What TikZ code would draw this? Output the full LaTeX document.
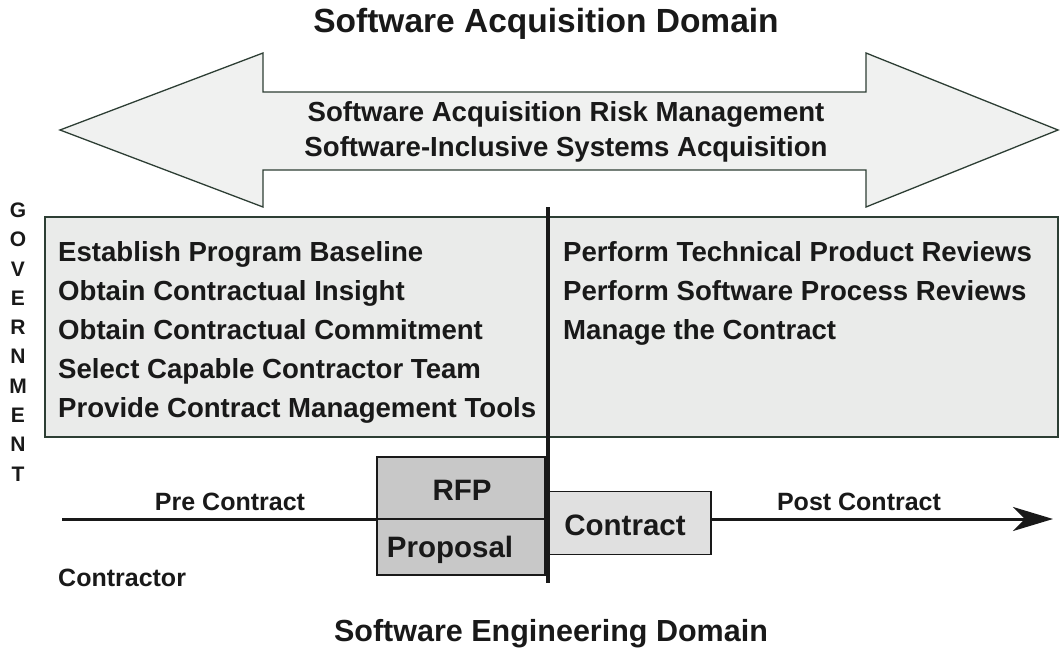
\documentclass[tikz,border=0pt]{standalone}
\usepackage{fontspec}
\setmainfont{Liberation Sans}
\usepackage{tikz}
\usetikzlibrary{arrows.meta}
\definecolor{edge}{RGB}{45,62,52}
\definecolor{paper}{RGB}{240,241,240}
\definecolor{panel}{RGB}{234,235,234}
\definecolor{rfpgray}{RGB}{200,200,200}
\definecolor{ctgray}{RGB}{224,224,224}
\definecolor{ink}{RGB}{25,25,25}

\begin{document}
\begin{tikzpicture}[x=1pt,y=-1pt]
    \tikzstyle{title}=[fill=none, draw=none, text=ink, font=\bfseries\fontsize{33.5}{38}\selectfont]
    \tikzstyle{label}=[fill=none, draw=none, text=ink, inner sep=0pt, font=\bfseries\fontsize{27.6}{32}\selectfont]
    \tikzstyle{small label}=[fill=none, draw=none, text=ink, inner sep=0pt, font=\bfseries\fontsize{25}{30}\selectfont]
    \tikzstyle{doc}=[draw=ink, line width=1.6pt, inner sep=0pt]
    \tikzstyle{doc label}=[fill=none, draw=none, text=ink, inner sep=0pt, anchor=base, font=\bfseries\fontsize{29.5}{34}\selectfont]
    \tikzstyle{outline}=[draw=edge, line width=1.3pt]
    \tikzstyle{timeline}=[-{Stealth[length=40pt,width=24pt,inset=12pt]}, line width=3pt, draw=ink]
    \tikzstyle{divider}=[line width=4pt, draw=ink]

    \useasboundingbox (0,0) rectangle (1060,650);

    % double headed arrow for the acquisition side
    \draw [style=outline, fill=paper] (60,130) -- (263,53) -- (263,92) -- (866,92) -- (866,53)
        -- (1058,130) -- (866,207) -- (866,170) -- (263,170) -- (263,207) -- cycle;
    \node [style=label] (risk) at (566,114) {Software Acquisition Risk Management};
    \node [style=label] (sisa) at (566,149) {Software-Inclusive Systems Acquisition};

    % government activities
    \draw [style=outline, fill=panel] (45,217) rectangle (1058,437);
    \node [style=label, anchor=base west] (pre1) at (58,261) {Establish Program Baseline};
    \node [style=label, anchor=base west] (pre2) at (58,300) {Obtain Contractual Insight};
    \node [style=label, anchor=base west] (pre3) at (58,339) {Obtain Contractual Commitment};
    \node [style=label, anchor=base west] (pre4) at (58,378) {Select Capable Contractor Team};
    \node [style=label, anchor=base west] (pre5) at (58,417) {Provide Contract Management Tools};
    \node [style=label, anchor=base west] (post1) at (563,261) {Perform Technical Product Reviews};
    \node [style=label, anchor=base west] (post2) at (563,300) {Perform Software Process Reviews};
    \node [style=label, anchor=base west] (post3) at (563,339) {Manage the Contract};

    \node [fill=none, draw=none, text=ink, align=center, inner sep=0pt,
        font=\bfseries\fontsize{21}{29.3}\selectfont] (gov) at (18,342)
        {G\\O\\V\\E\\R\\N\\M\\E\\N\\T};

    % time line
    \coordinate (start) at (62,519);
    \coordinate (finish) at (1053,519);
    \draw [style=timeline] (start) -- (finish);
    \node [style=small label] (prec) at (230,502) {Pre Contract};
    \node [style=small label] (postc) at (859,502) {Post Contract};
    \node [style=small label, anchor=west] (ctr) at (58,578) {Contractor};

    \node [style=doc, fill=rfpgray, minimum width=168pt, minimum height=62pt] (rfp) at (461,488) {};
    \node [style=doc, fill=rfpgray, minimum width=168pt, minimum height=56pt] (prop) at (461,547) {};
    \node [style=doc, fill=ctgray, minimum width=164pt, minimum height=63pt] (contract) at (629,523) {};
    \node [style=doc label] (rfptext) at (462,500) {RFP};
    \node [style=doc label] (proptext) at (450,557) {Proposal};
    \node [style=doc label] (contracttext) at (625,535) {Contract};

    \coordinate (top) at (548,207);
    \coordinate (bottom) at (548,583);
    \draw [style=divider] (top) -- (bottom);

    \node [style=title] (acq) at (546,24) {Software Acquisition Domain};
    \node [style=title, font=\bfseries\fontsize{30.5}{35}\selectfont] (eng) at (551,634) {Software Engineering Domain};
\end{tikzpicture}
\end{document}
